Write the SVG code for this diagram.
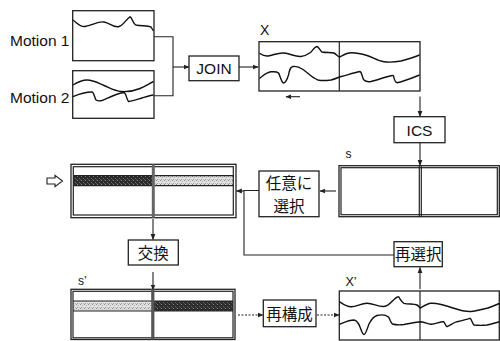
<svg xmlns="http://www.w3.org/2000/svg" width="500" height="341" viewBox="0 0 500 341">
<defs>
<marker id="ah" viewBox="0 0 10 10" refX="9" refY="5" markerWidth="6" markerHeight="6" markerUnits="userSpaceOnUse" orient="auto">
<path d="M0,1 L10,5 L0,9 Z" fill="#222"/>
</marker>
<pattern id="dark" width="4" height="4" patternUnits="userSpaceOnUse">
<rect width="4" height="4" fill="#2b2b2b"/>
<rect x="1" y="0" width="1" height="1" fill="#8a8a8a"/>
<rect x="3" y="2" width="1" height="1" fill="#6a6a6a"/>
<rect x="0" y="3" width="1" height="1" fill="#555"/>
</pattern>
<pattern id="light" width="4" height="4" patternUnits="userSpaceOnUse">
<rect width="4" height="4" fill="#e2e2e2"/>
<rect x="0" y="0" width="1" height="1" fill="#888"/>
<rect x="2" y="1" width="1" height="1" fill="#aaa"/>
<rect x="1" y="3" width="1" height="1" fill="#999"/>
<rect x="3" y="3" width="1" height="1" fill="#bbb"/>
</pattern>
<style>
.box{fill:#fff;stroke:#222;stroke-width:1.3}
.frame{fill:none;stroke:#222;stroke-width:1.2}
.wave{fill:none;stroke:#111;stroke-width:1.4;stroke-linejoin:round}
.con{fill:none;stroke:#222;stroke-width:1.1}
.arr{fill:none;stroke:#222;stroke-width:1.1;marker-end:url(#ah)}
.dash{fill:none;stroke:#222;stroke-width:1.1;stroke-dasharray:2,1.5;marker-end:url(#ah)}
.lbl{font-family:"Liberation Sans",Arial,sans-serif;fill:#111}
.jp{font-family:"Noto Sans CJK JP","Noto Sans CJK SC",sans-serif;fill:#111;font-size:15.5px}
</style>
</defs>
<rect width="500" height="341" fill="#fff"/>

<g id="connectors">
<polyline class="con" points="154,36.7 173,36.7 173,95.7 154,95.7"/>
<line class="arr" x1="173" y1="67" x2="189" y2="67"/>
<line class="arr" x1="239" y1="67" x2="258" y2="67"/>
<line class="arr" x1="300" y1="96.7" x2="286" y2="96.7"/>
<line class="arr" x1="420" y1="96.5" x2="420" y2="116.5"/>
<line class="arr" x1="420" y1="143" x2="420" y2="165.5"/>
<line class="arr" x1="336" y1="191" x2="320" y2="191"/>
<polyline class="con" points="259,190.5 244,190.5 244,255 394,255"/>
<line class="arr" x1="244" y1="191" x2="236.5" y2="191"/>
<line class="arr" x1="153" y1="219" x2="153" y2="239.5"/>
<line class="arr" x1="153" y1="272" x2="153" y2="290"/>
<line class="arr" x1="420" y1="289" x2="420" y2="267.5"/>
<line class="dash" x1="238" y1="315" x2="263" y2="315"/>
<line class="dash" x1="317" y1="315" x2="339" y2="315"/>
<path d="M47,178 H55 V175.3 L62.5,181 L55,186.7 V184 H47 Z" fill="#fff" stroke="#222" stroke-width="1.1"/>
</g>

<g id="motion1">
<text class="lbl" x="10" y="45.5" font-size="15.5">Motion 1</text>
<rect class="box" x="72.7" y="10.7" width="81.3" height="50"/>
<path class="wave" d="M73,20 C77,23 80,27 85,26.5 C92,25.5 98,21 104,22 C110,23 114,28 119,26.5 C124,25 126,19 130,16.8 C132,17 133,24 136,25 C142,26 148,25.5 151,27 L153.5,31"/>
</g>

<g id="motion2">
<text class="lbl" x="10" y="102.5" font-size="15.5">Motion 2</text>
<rect class="box" x="72.7" y="70.7" width="81.3" height="47.6"/>
<path class="wave" d="M73,85 C78,82 82,80 87,80 C94,80 98,83 104,85.5 C110,88 115,91 121,91.5 C128,92 134,91 140,88.5 C146,86 150,83 153.5,81.5"/>
<path class="wave" d="M73,96.7 C79,94 85,92 92,92 C94,92 94.5,98 96,100 C98,101.5 100,101 102,100.5 C110,97 118,93 124,92.5 C126,93 126.5,99 128.5,101.5 C133,101 137,99.5 142,98 C147,96.5 150,95.5 153.5,95"/>
</g>

<g id="join">
<rect class="box" x="189" y="56" width="50" height="24.7"/>
<text class="lbl" x="214" y="74" font-size="15.5" text-anchor="middle">JOIN</text>
</g>

<g id="x">
<text class="lbl" x="260" y="35" font-size="14">X</text>
<rect class="box" x="259" y="41.7" width="161" height="49.3"/>
<line class="frame" x1="339.3" y1="41.7" x2="339.3" y2="91"/>
<path class="wave" d="M259.5,53.3 C262,55 264,56.5 268,56 C274,55 278,52.5 284,53 C290,53.5 295,57 301,56.5 C306,56 308,54 311,52 C313,50 315,46.5 317,46.5 C319,47 320,51 322,52 C326,53 331,52 334,53 C336,54 338,57 339.5,57 C342,56 346,53 351,52.8 C357,52.6 362,54 367,55.5 C373,57.5 378,61 384,61.8 C390,62.5 396,62 401,61 C409,59 415,57 419.5,55"/>
<path class="wave" d="M259.5,78.3 C263,76 266,72.5 271,71.8 C275,71.5 277,71.5 278.5,73 C280,75 281,81 283,82.7 C285,84 287,80 288.5,75 C289.5,70 290,67 293,66.5 C297,66 300,67.5 303,69.5 C308,73 312,78 318,80 C322,81 327,80.5 331,80 C335,79 338,77.5 341,76.5 C347,75 353,73 360,71.5 C362,72 362,78 364,80 C366,82 368,82 371,81.5 C377,80 384,77.5 390,76 C392,75.5 393,75 393.5,76 C394,78 394.5,82 397,82.7 C404,81.5 412,78 419.5,75"/>
</g>

<g id="ics">
<rect class="box" x="394" y="116.7" width="51" height="26"/>
<text class="lbl" x="419.5" y="135.5" font-size="15.5" text-anchor="middle">ICS</text>
</g>

<g id="s">
<text class="lbl" x="345.5" y="157.5" font-size="12">s</text>
<rect class="box" x="339" y="165.7" width="160.3" height="51"/>
<rect class="frame" x="341" y="167.7" width="156.3" height="47"/>
<line class="frame" x1="419.3" y1="165.7" x2="419.3" y2="216.7"/>
<line class="frame" x1="421.3" y1="165.7" x2="421.3" y2="216.7"/>
</g>

<g id="select">
<rect class="box" x="259" y="171" width="60" height="45.7"/>
<text class="jp" x="289" y="188.5" text-anchor="middle">任意に</text>
<text class="jp" x="289" y="211.5" text-anchor="middle">選択</text>
</g>

<g id="pool">
<rect class="box" x="71" y="164.3" width="165" height="53.4"/>
<rect x="73.3" y="175.7" width="80" height="10" fill="url(#dark)"/>
<rect x="153.3" y="175.7" width="80" height="10" fill="url(#light)"/>
<rect class="frame" x="73.3" y="166.7" width="160" height="48.3"/>
<line class="frame" x1="73.3" y1="175.7" x2="233.3" y2="175.7"/>
<line class="frame" x1="73.3" y1="185.7" x2="233.3" y2="185.7"/>
<rect x="151.8" y="164.3" width="3" height="53.4" fill="#666"/>
</g>

<g id="exchange">
<rect class="box" x="128.3" y="240" width="50" height="25"/>
<text class="jp" x="153.3" y="258.5" text-anchor="middle" font-size="16">交換</text>
</g>

<g id="reselect">
<rect class="box" x="394" y="241.7" width="48.3" height="25"/>
<text class="jp" x="418.2" y="260" text-anchor="middle">再選択</text>
</g>

<g id="s2">
<text class="lbl" x="78" y="284.5" font-size="12">s’</text>
<rect class="box" x="71" y="289.3" width="164" height="50.2"/>
<rect x="73" y="301" width="80" height="10" fill="url(#light)"/>
<rect x="153" y="301" width="80" height="10" fill="url(#dark)"/>
<rect class="frame" x="73" y="291.3" width="160" height="46.5"/>
<line class="frame" x1="73" y1="301" x2="233" y2="301"/>
<line class="frame" x1="73" y1="311" x2="233" y2="311"/>
<rect x="151.2" y="289.3" width="3.2" height="50.2" fill="#555"/>
</g>

<g id="rebuild">
<rect class="box" x="263.3" y="300" width="52.7" height="26.7"/>
<text class="jp" x="289.6" y="319.5" text-anchor="middle" font-size="16">再構成</text>
</g>

<g id="x2">
<text class="lbl" x="345.5" y="285.5" font-size="12.5">X’</text>
<rect class="box" x="339.3" y="291" width="160" height="49"/>
<line class="frame" x1="420" y1="291" x2="420" y2="340"/>
<path class="wave" d="M339.5,301.7 C343,304 346,306.5 351,306.8 C356,307 361,303.5 367,303.3 C373,303.2 378,307 384,306.5 C389,306 391,302 394,299.5 C396,297.5 397.5,296.5 398.5,296.8 C400,298 401,302 404,303.3 C408,304.5 414,303.5 417,305 C419,306 419.5,308 420.5,308 C424,306 427,303.5 431,303.3 C438,303 446,305.5 453,308 C459,310 465,312 471,311.5 C477,311 483,309 488,308 C493,306 497,304.5 499.5,303.5"/>
<path class="wave" d="M339.5,324.3 C344,322.5 349,320 354,320 C357,320.5 358.5,323 360,327 C361.5,331 362.5,334.5 364,334.5 C366,334 367,329 369,324 C371,320 373,317 377,315.5 C381,314.5 386,315 388.5,317 C390,319 390.5,323 392.5,324 C396,325 400,325 404,324.5 C410,323.5 416,322 421,321.8 C425,322 428,324.5 431,324.3 C436,324 440,321.5 443.5,321.7 C445,322.5 445.5,326 447,326.7 C450,325.5 453,323 457,321.7 C462,320.5 466,319.5 470,318.3 C471.5,318.5 472,323 474,325 C478,325.5 483,325.5 487,325 C492,324 496,322.5 499.5,321.7"/>
</g>
</svg>
